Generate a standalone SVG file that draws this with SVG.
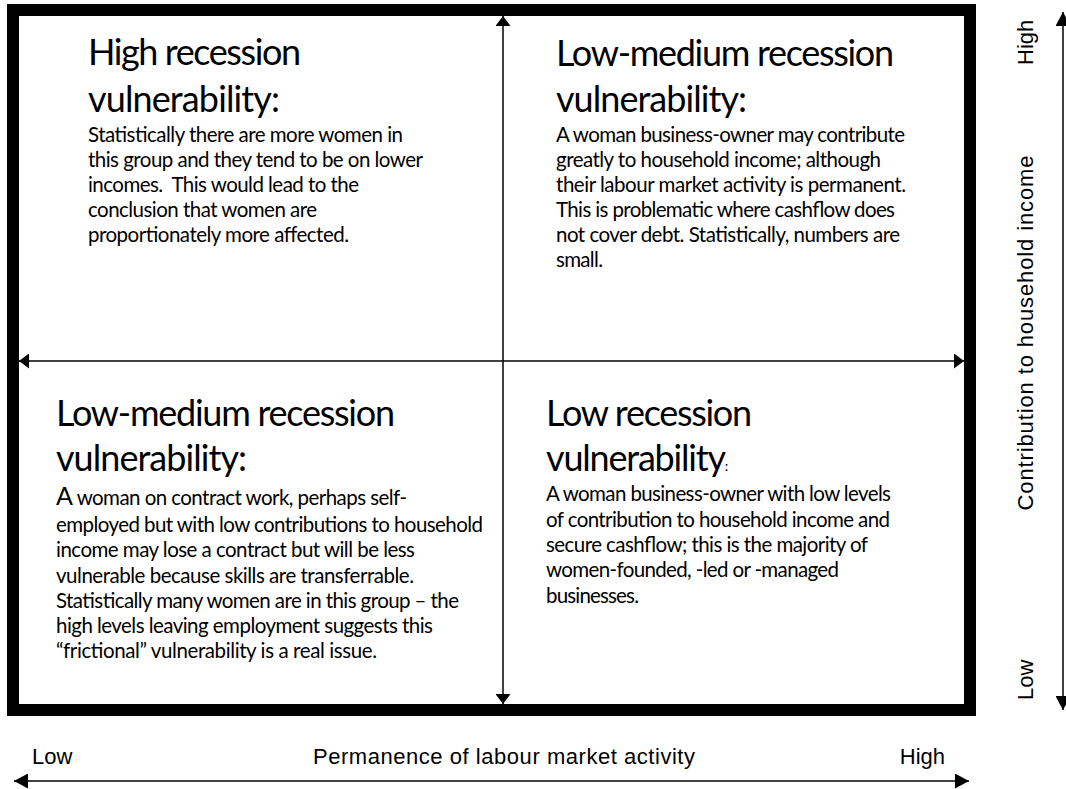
<svg xmlns="http://www.w3.org/2000/svg" width="1066" height="789" viewBox="0 0 1066 789">
  <style>
    .title { font-family: Lato, "Open Sans", "DejaVu Sans", sans-serif; font-size: 36px; fill: #000; }
    .body  { font-family: Lato, "Open Sans", "DejaVu Sans", sans-serif; font-size: 20.5px; fill: #000; }
    .axis  { font-family: "Liberation Sans", Arial, sans-serif; font-size: 22px; fill: #000; }
    .frame { fill: #fff; stroke: #000; stroke-width: 12; }
    .conn  { stroke: #000; stroke-width: 1.5; fill: none; }
  </style>
  <defs>
    <marker id="headSmall" markerUnits="userSpaceOnUse" markerWidth="11" markerHeight="15" refX="10" refY="7.5" orient="auto-start-reverse" viewBox="0 0 11 15">
      <path d="M0,0 L10,7.5 L0,15 z" fill="#000"/>
    </marker>
    <marker id="headAxis" markerUnits="userSpaceOnUse" markerWidth="15" markerHeight="15" refX="14" refY="7.5" orient="auto-start-reverse" viewBox="0 0 15 15">
      <path d="M0,0 L14,7.5 L0,15 z" fill="#000"/>
    </marker>
  </defs>

  <rect width="1066" height="789" fill="#fff"/>

  <!-- outer frame of the matrix -->
  <g id="frame">
    <rect class="frame" x="13" y="10" width="957" height="700"/>
  </g>

  <!-- quadrant dividers and axes -->
  <g id="connectors">
    <line class="conn" x1="503" y1="16" x2="503" y2="704" marker-start="url(#headSmall)" marker-end="url(#headSmall)"/>
    <line class="conn" x1="19" y1="361" x2="964" y2="361" marker-start="url(#headSmall)" marker-end="url(#headSmall)"/>
    <line class="conn" x1="1063" y1="12" x2="1063" y2="710" marker-start="url(#headAxis)" marker-end="url(#headAxis)"/>
    <line class="conn" x1="14" y1="781" x2="969" y2="781" marker-start="url(#headAxis)" marker-end="url(#headAxis)"/>
  </g>

  <!-- top-left quadrant -->
  <g id="q-high">
    <text class="title" x="88" y="65" textLength="213" lengthAdjust="spacing">High recession</text>
    <text class="title" x="88" y="112" textLength="192" lengthAdjust="spacing">vulnerability:</text>
    <text class="body" x="88" y="142" textLength="315" lengthAdjust="spacing">Statistically there are more women in</text>
    <text class="body" x="88" y="167" textLength="335" lengthAdjust="spacing">this group and they tend to be on lower</text>
    <text class="body" x="88" y="192" textLength="271" lengthAdjust="spacing">incomes.&#160; This would lead to the</text>
    <text class="body" x="88" y="217" textLength="229" lengthAdjust="spacing">conclusion that women are</text>
    <text class="body" x="88" y="242" textLength="261" lengthAdjust="spacing">proportionately more affected.</text>
  </g>

  <!-- top-right quadrant -->
  <g id="q-lowmed-top">
    <text class="title" x="556" y="66" textLength="338" lengthAdjust="spacing">Low-medium recession</text>
    <text class="title" x="556" y="112" textLength="191" lengthAdjust="spacing">vulnerability:</text>
    <text class="body" x="556" y="142" textLength="349" lengthAdjust="spacing">A woman business-owner may contribute</text>
    <text class="body" x="556" y="167" textLength="325" lengthAdjust="spacing">greatly to household income; although</text>
    <text class="body" x="556" y="192" textLength="350" lengthAdjust="spacing">their labour market activity is permanent.</text>
    <text class="body" x="556" y="217" textLength="339" lengthAdjust="spacing">This is problematic where cashflow does</text>
    <text class="body" x="556" y="242" textLength="344" lengthAdjust="spacing">not cover debt. Statistically, numbers are</text>
    <text class="body" x="556" y="267" textLength="47" lengthAdjust="spacing">small.</text>
  </g>

  <!-- bottom-left quadrant -->
  <g id="q-lowmed-bottom">
    <text class="title" x="56" y="426" textLength="339" lengthAdjust="spacing">Low-medium recession</text>
    <text class="title" x="56" y="471" textLength="191" lengthAdjust="spacing">vulnerability:</text>
    <text class="body" x="56" y="505" textLength="351" lengthAdjust="spacing"><tspan font-size="25">A</tspan> woman on contract work, perhaps self-</text>
    <text class="body" x="56" y="532" textLength="427" lengthAdjust="spacing">employed but with low contributions to household</text>
    <text class="body" x="56" y="557" textLength="359" lengthAdjust="spacing">income may lose a contract but will be less</text>
    <text class="body" x="56" y="583" textLength="358" lengthAdjust="spacing">vulnerable because skills are transferrable.</text>
    <text class="body" x="56" y="608" textLength="403" lengthAdjust="spacing">Statistically many women are in this group – the</text>
    <text class="body" x="56" y="633" textLength="377" lengthAdjust="spacing">high levels leaving employment suggests this</text>
    <text class="body" x="56" y="658" textLength="321" lengthAdjust="spacing">“frictional” vulnerability is a real issue.</text>
  </g>

  <!-- bottom-right quadrant -->
  <g id="q-low">
    <text class="title" x="546" y="426" textLength="206" lengthAdjust="spacing">Low recession</text>
    <text class="title" x="546" y="471"><tspan textLength="180" lengthAdjust="spacing">vulnerability</tspan><tspan font-size="14">:</tspan></text>
    <text class="body" x="546" y="501" textLength="345" lengthAdjust="spacing">A woman business-owner with low levels</text>
    <text class="body" x="546" y="527" textLength="344" lengthAdjust="spacing">of contribution to household income and</text>
    <text class="body" x="546" y="552" textLength="322" lengthAdjust="spacing">secure cashflow; this is the majority of</text>
    <text class="body" x="546" y="577" textLength="293" lengthAdjust="spacing">women-founded, -led or -managed</text>
    <text class="body" x="546" y="603" textLength="93" lengthAdjust="spacing">businesses.</text>
  </g>

  <!-- axis labels -->
  <g id="axis-x">
    <text class="axis" x="32" y="764">Low</text>
    <text class="axis" x="313" y="764" textLength="382" lengthAdjust="spacing">Permanence of labour market activity</text>
    <text class="axis" x="945" y="764" text-anchor="end">High</text>
  </g>
  <g id="axis-y">
    <text class="axis" transform="translate(1033,65) rotate(-90)">High</text>
    <text class="axis" transform="translate(1033,333) rotate(-90)" text-anchor="middle" textLength="355" lengthAdjust="spacing">Contribution to household income</text>
    <text class="axis" transform="translate(1033,700) rotate(-90)">Low</text>
  </g>
</svg>
